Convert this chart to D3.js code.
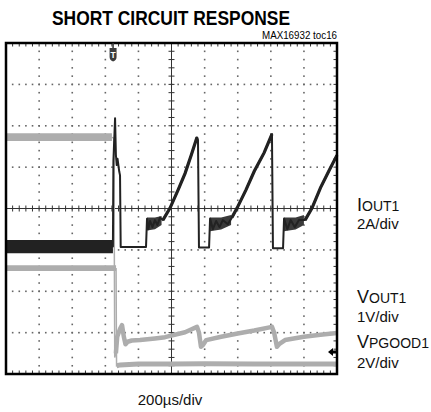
<!DOCTYPE html>
<html><head><meta charset="utf-8">
<script src="https://cdn.jsdelivr.net/npm/d3@7"></script>
<style>body{margin:0;background:#fff}svg{display:block}</style>
</head><body><svg id="c" width="431" height="412"></svg>
<script>
// ---------- data ----------
const titleText = "SHORT CIRCUIT RESPONSE";
const noteText = "MAX16932 toc16";
const xAxisLabel = "200µs/div";
const channelMain = ["I", "V", "V"];
const channelSub = ["OUT1", "OUT1", "PGOOD1"];
const channelScale = ["2A/div", "1V/div", "2V/div"];
const timeDomain = [0, 2000];      // µs, 200 µs/div, 10 div
const divDomain = [0, 8];          // vertical divisions
const triggerTime = 650;

// IOUT1 (dark trace): [t µs, divisions]
const ioutPreBand = [[0, 2.92, 3.24], [646, 2.92, 3.24]];
const ioutLine = [
  [0,3.08],[646,3.08],[649,5.15],[659,6.18],[664,5.3],[669,5.05],[674,5.2],[679,5.05],[684,4.9],[689,4.8],[693,3.07],
  [846,3.07],[852,3.75],[860,3.5],[870,3.7],[885,3.55],[900,3.72],[915,3.6],[930,3.78],[948,3.72],[991,4.01],[1040,4.45],[1082,4.85],[1120,5.3],[1154,5.72],[1160,5.66],[1166,3.06],
  [1227,3.06],[1233,3.76],[1250,3.5],[1270,3.7],[1290,3.55],[1310,3.72],[1340,3.62],[1365,3.78],[1396,4.01],[1450,4.45],[1500,4.9],[1560,5.35],[1607,5.8],[1613,3.04],
  [1674,3.04],[1680,3.76],[1700,3.5],[1720,3.72],[1745,3.55],[1770,3.72],[1807,3.72],[1849,4.01],[1900,4.5],[1950,4.9],[2000,5.29]
];
const ioutNoiseA = [[852,3.47,3.78],[900,3.5,3.78],[940,3.6,3.82]];
const ioutNoiseB = [[1233,3.45,3.78],[1300,3.49,3.78],[1360,3.6,3.84]];
const ioutNoiseC = [[1680,3.45,3.78],[1750,3.49,3.78],[1800,3.6,3.84]];

// VOUT1 (gray trace)
const voutPreBand = [[0, 5.63, 5.82], [640, 5.63, 5.82]];
const voutLine = [
  [640,5.72],[652,5.7],[657,0.4],[664,0.5],[672,0.9],[690,1.1],[701,1.18],[712,0.9],[722,0.72],[735,0.78],[760,0.81],
  [810,0.82],[900,0.86],[961,0.89],[1082,1.01],[1154,1.14],[1166,1.0],[1178,0.66],[1190,0.7],[1210,0.82],[1300,0.9],
  [1400,0.98],[1500,1.05],[1607,1.14],[1620,1.0],[1637,0.66],[1650,0.72],[1686,0.82],[1800,0.9],[1900,0.95],[2000,0.99]
];

// VPGOOD1 (gray trace)
const pgPreBand = [[0, 2.49, 2.63], [665, 2.49, 2.63]];
const pgLine = [[665,2.56],[668,0.2],[690,0.22],[800,0.24],[1000,0.24],[1200,0.25],[1500,0.24],[2000,0.24]];

// ---------- drawing ----------
const svg = d3.select("#c");
const L = 6, R = 337, T = 43, B = 374;
const x = d3.scaleLinear().domain(timeDomain).range([L, R]);
const y = d3.scaleLinear().domain(divDomain).range([B, T]);

const darkCol = "#222", grayCol = "#adadad", dotCol = "#666";

// title & note
svg.append("text").attr("x", 171).attr("y", 25).attr("text-anchor", "middle")
  .attr("font-family", "'Liberation Sans Narrow','Liberation Sans',Arial,sans-serif")
  .attr("font-weight", "bold").attr("font-size", 20)
  .attr("textLength", 238).attr("lengthAdjust", "spacingAndGlyphs").text(titleText);
svg.append("text").attr("x", R).attr("y", 39).attr("text-anchor", "end")
  .attr("font-family", "'Liberation Sans',Arial,sans-serif").attr("font-size", 10)
  .attr("textLength", 75).attr("lengthAdjust", "spacingAndGlyphs").text(noteText);

const grid = svg.append("g");
const majorT = d3.range(timeDomain[0], timeDomain[1] + 1, 200);
const minorT = d3.range(timeDomain[0], timeDomain[1] + 1, 40);
const majorV = d3.range(divDomain[0], divDomain[1] + 0.001, 1);
const minorV = d3.range(divDomain[0], divDomain[1] + 0.001, 0.2);

// dotted vertical gridlines
majorT.filter(t => t > 0 && t < 2000 && t !== 1000).forEach(t => {
  grid.selectAll(null).data(minorV.filter(v => v > 0 && v < 8)).enter().append("rect")
    .attr("x", x(t) - 0.75).attr("y", v => y(v) - 0.75).attr("width", 1.6).attr("height", 1.6).attr("fill", dotCol);
});
// dotted horizontal gridlines
majorV.filter(v => v > 0 && v < 8 && v !== 4).forEach(v => {
  grid.selectAll(null).data(minorT.filter(t => t > 0 && t < 2000)).enter().append("rect")
    .attr("x", t => x(t) - 0.75).attr("y", y(v) - 0.75).attr("width", 1.6).attr("height", 1.6).attr("fill", dotCol);
});
// center axes
grid.append("line").attr("x1", x(1000)).attr("x2", x(1000)).attr("y1", T).attr("y2", B).attr("stroke", "#333").attr("stroke-width", 1);
grid.append("line").attr("x1", L).attr("x2", R).attr("y1", y(4)).attr("y2", y(4)).attr("stroke", "#333").attr("stroke-width", 1);
grid.selectAll(null).data(minorV).enter().append("line")
  .attr("x1", x(1000) - 3).attr("x2", x(1000) + 3).attr("y1", v => y(v)).attr("y2", v => y(v)).attr("stroke", "#333");
grid.selectAll(null).data(minorT).enter().append("line")
  .attr("x1", t => x(t)).attr("x2", t => x(t)).attr("y1", y(4) - 3).attr("y2", y(4) + 3).attr("stroke", "#333");
// border ticks
grid.selectAll(null).data(minorT).enter().append("line")
  .attr("x1", t => x(t)).attr("x2", t => x(t)).attr("y1", T).attr("y2", T + 3.5).attr("stroke", "#333");
grid.selectAll(null).data(minorT).enter().append("line")
  .attr("x1", t => x(t)).attr("x2", t => x(t)).attr("y1", B).attr("y2", B - 3.5).attr("stroke", "#333");
grid.selectAll(null).data(minorV).enter().append("line")
  .attr("x1", R).attr("x2", R - 3.5).attr("y1", v => y(v)).attr("y2", v => y(v)).attr("stroke", "#333");

// traces
const line = d3.line().x(d => x(d[0])).y(d => y(d[1]));
const area = d3.area().x(d => x(d[0])).y0(d => y(d[1])).y1(d => y(d[2]));
const tr = svg.append("g");

// gray traces
tr.append("path").attr("d", area(voutPreBand)).attr("fill", grayCol);
tr.append("path").attr("d", area(pgPreBand)).attr("fill", grayCol);
tr.append("path").attr("d", line(voutLine)).attr("fill", "none").attr("stroke", grayCol).attr("stroke-width", 1.5);
tr.append("path").attr("d", line(voutLine.filter(d => d[0] >= 664))).attr("fill", "none").attr("stroke", grayCol).attr("stroke-width", 4.5).attr("stroke-linejoin", "round");
tr.append("path").attr("d", line(pgLine)).attr("fill", "none").attr("stroke", grayCol).attr("stroke-width", 1.5);
tr.append("path").attr("d", line(pgLine.filter(d => d[0] >= 668))).attr("fill", "none").attr("stroke", grayCol).attr("stroke-width", 5);

// dark trace
tr.append("path").attr("d", area(ioutPreBand)).attr("fill", darkCol);
[ioutNoiseA, ioutNoiseB, ioutNoiseC].forEach(b => tr.append("path").attr("d", area(b)).attr("fill", "#3a3a3a"));
tr.append("path").attr("d", line(ioutLine)).attr("fill", "none").attr("stroke", darkCol).attr("stroke-width", 2).attr("stroke-linejoin", "round");
// thicker noisy ramps
tr.append("path").attr("d", line(ioutLine.filter(d => (d[0] >= 948 && d[0] <= 1154) || false))).attr("fill", "none").attr("stroke", darkCol).attr("stroke-width", 3.2);
tr.append("path").attr("d", line(ioutLine.filter(d => d[0] >= 1365 && d[0] <= 1607))).attr("fill", "none").attr("stroke", darkCol).attr("stroke-width", 3.2);
tr.append("path").attr("d", line(ioutLine.filter(d => d[0] >= 1807))).attr("fill", "none").attr("stroke", darkCol).attr("stroke-width", 3.2);

// frame
svg.append("rect").attr("x", L).attr("y", T).attr("width", R - L).attr("height", B - T)
  .attr("fill", "none").attr("stroke", "#000").attr("stroke-width", 2.5);

// trigger marker
const tx = x(triggerTime) - 0.5;
svg.append("line").attr("x1", tx).attr("x2", tx).attr("y1", T).attr("y2", T + 6).attr("stroke", "#333").attr("stroke-width", 1.5);
svg.append("path").attr("d", `M${tx-3.5},${T+5} h7 v9 q0,3 -3.5,4.5 q-3.5,-1.5 -3.5,-4.5 z`).attr("fill", "#3d3d3d");
svg.append("text").attr("x", tx).attr("y", T + 14.5).attr("text-anchor", "middle")
  .attr("font-family", "'Liberation Sans',Arial,sans-serif").attr("font-weight", "bold").attr("font-size", 8.5).attr("fill", "#fff").text("T");

// ground arrow at right
svg.append("path").attr("d", `M${R-9},${y(0.53)} l5,-4 v2.5 h3.5 v3 h-3.5 v2.5 z`).attr("fill", "#000");

// labels
const fam = "'Liberation Sans',Arial,sans-serif";
const labBase = [211, 303, 348];
const scaleBase = [229, 322, 368];
channelMain.forEach((m, i) => {
  const t = svg.append("text").attr("x", 357).attr("y", labBase[i]).attr("font-family", fam).attr("fill", "#111");
  t.append("tspan").attr("font-size", 18).text(m);
  t.append("tspan").attr("font-size", 14).text(channelSub[i]);
  svg.append("text").attr("x", 357).attr("y", scaleBase[i]).attr("font-family", fam).attr("font-size", 15).attr("fill", "#111").text(channelScale[i]);
});
svg.append("text").attr("x", 170).attr("y", 405).attr("text-anchor", "middle")
  .attr("font-family", fam).attr("font-size", 15).attr("fill", "#111").text(xAxisLabel);
</script></body></html>
